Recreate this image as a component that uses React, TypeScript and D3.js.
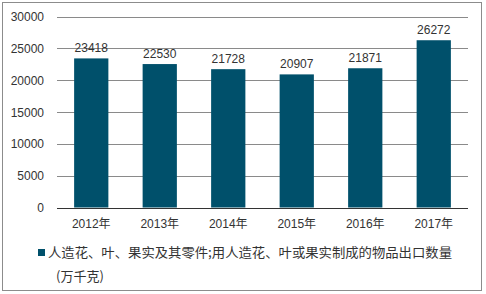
import React from "react";
import * as d3 from "d3";

const categories = ["2012年", "2013年", "2014年", "2015年", "2016年", "2017年"];
const values = [23418, 22530, 21728, 20907, 21871, 26272];
const yTicks = [0, 5000, 10000, 15000, 20000, 25000, 30000];
const legendLine1 = "人造花、叶、果实及其零件;用人造花、叶或果实制成的物品出口数量";
const legendLine2 = "(万千克)";

const W = 486;
const H = 294;
const left = 57;
const right = 468;
const top = 16.5;
const bottom = 207.5;
const barColor = "#00506B";
const font = "'Liberation Sans', Arial, 'Noto Sans CJK SC', sans-serif";
const cjkFont = "'Noto Sans CJK SC', 'Liberation Sans', sans-serif";

export default function App() {
  const x = d3.scaleBand<string>().domain(categories).range([left, right]).paddingInner(0.5).paddingOuter(0.25);
  const y = d3.scaleLinear().domain([0, 30000]).range([bottom, top]);
  return (
    <svg width={W} height={H} style={{ position: "absolute", left: 0, top: 0 }}>
      <rect x={0} y={0} width={W} height={H} fill="#fff" />
      <rect x={2.5} y={2.5} width={479} height={288} fill="none" stroke="#8c8c8c" strokeWidth={1} />
      {yTicks.map((t) => (
        <g key={t}>
          {t > 0 && (
            <line x1={left} x2={right} y1={Math.round(y(t)) + 0.5} y2={Math.round(y(t)) + 0.5} stroke="#8a8a8a" strokeWidth={1} />
          )}
          <text x={44} y={y(t) + 4.5} textAnchor="end" fontFamily={font} fontSize={12} fill="#333">
            {t}
          </text>
        </g>
      ))}
      {values.map((v, i) => (
        <g key={i}>
          <rect x={x(categories[i])!} y={y(v)} width={x.bandwidth()} height={bottom - y(v)} fill={barColor} />
          <text x={x(categories[i])! + x.bandwidth() / 2} y={y(v) - 6} textAnchor="middle" fontFamily={font} fontSize={12} fill="#333">
            {v}
          </text>
        </g>
      ))}
      <line x1={left} x2={right} y1={Math.round(bottom) + 0.5} y2={Math.round(bottom) + 0.5} stroke="#333" strokeWidth={1} />
      {categories.map((c) => (
        <text key={c} x={x(c)! + x.bandwidth() / 2} y={228} textAnchor="middle" fontFamily={font} fontSize={12} fill="#333">
          {c}
        </text>
      ))}
      <rect x={38} y={249} width={7} height={7} fill={barColor} />
      <text x={48} y={257} fontFamily={cjkFont} fontSize={13} fill="#333" textLength={404} lengthAdjust="spacingAndGlyphs">
        {legendLine1}
      </text>
      <text x={56} y={280.5} fontFamily={cjkFont} fontSize={13} fill="#333">
        {legendLine2}
      </text>
    </svg>
  );
}
